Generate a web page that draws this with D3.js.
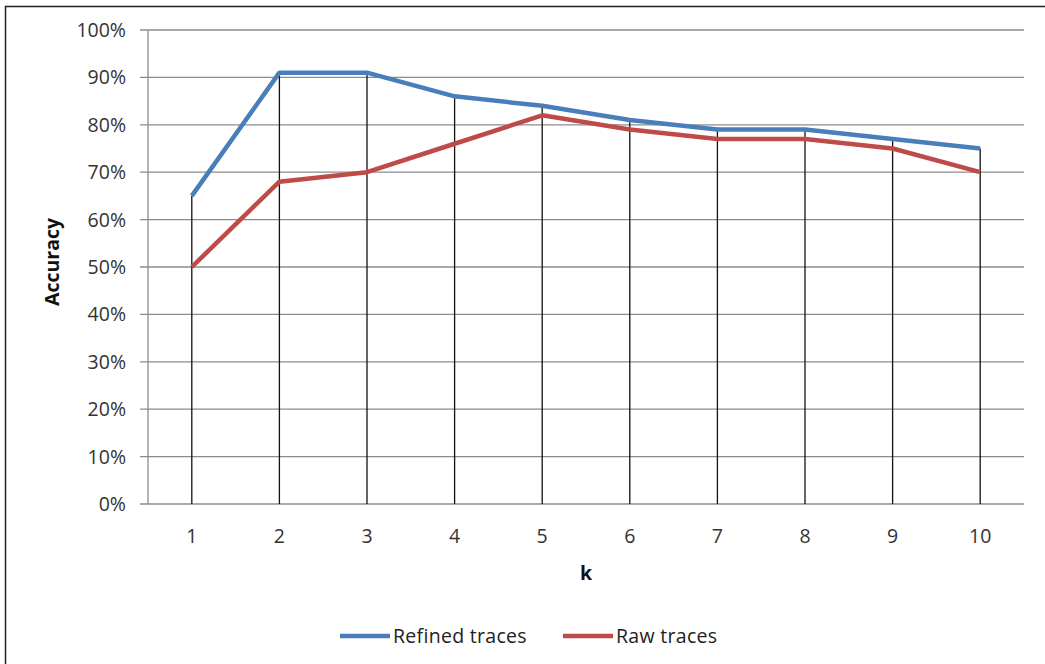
<!DOCTYPE html>
<html><head><meta charset="utf-8">
<script src="https://cdn.jsdelivr.net/npm/d3@7"></script>
<style>body{margin:0;background:#fff;} svg{display:block;font-family:"Open Sans",Lato,sans-serif;}</style>
</head><body>
<svg id="c" width="1045" height="664"></svg>
<script>
const categories = ["1","2","3","4","5","6","7","8","9","10"];
const refined = [65, 91, 91, 86, 84, 81, 79, 79, 77, 75];
const raw = [50, 68, 70, 76, 82, 79, 77, 77, 75, 70];
const yTicks = [0,10,20,30,40,50,60,70,80,90,100];
const seriesNames = ["Refined traces", "Raw traces"];
const colors = ["#4A7EBB", "#BE4B48"];

const svg = d3.select("#c");
svg.append("rect").attr("x",5.5).attr("y",6.5).attr("width",1045).attr("height",670)
  .attr("fill","none").attr("stroke","#222").attr("stroke-width",1.5);

const L=148, R=1024, T=30, B=504;
const x = d3.scaleBand().domain(categories).range([L,R]);
const y = d3.scaleLinear().domain([0,100]).range([B,T]);
const cx = d => x(d)+x.bandwidth()/2;

svg.append("g").selectAll("line").data(yTicks).join("line")
  .attr("x1",L-8).attr("x2",R).attr("y1",d=>y(d)).attr("y2",d=>y(d))
  .attr("stroke","#8c8c8c").attr("stroke-width",1.3);
svg.append("line").attr("x1",L).attr("x2",L).attr("y1",T).attr("y2",B)
  .attr("stroke","#8c8c8c").attr("stroke-width",1.3);
svg.append("g").selectAll("text").data(yTicks).join("text")
  .attr("x",126).attr("y",d=>y(d)).attr("dy","0.36em").attr("text-anchor","end")
  .attr("font-size",19.5).attr("fill","#333").text(d=>d+"%");
svg.append("g").selectAll("text").data(categories).join("text")
  .attr("x",d=>cx(d)).attr("y",543).attr("text-anchor","middle")
  .attr("font-size",19.5).attr("fill","#333").text(d=>d);

svg.append("g").selectAll("line").data(categories).join("line")
  .attr("x1",d=>cx(d)).attr("x2",d=>cx(d))
  .attr("y1",(d,i)=>y(Math.max(refined[i],raw[i]))).attr("y2",B)
  .attr("stroke","#111").attr("stroke-width",1.3);

const line = d3.line().x((d,i)=>cx(categories[i])).y(d=>y(d));
[refined, raw].forEach((s,k)=>{
  svg.append("path").datum(s).attr("d",line).attr("fill","none")
    .attr("stroke",colors[k]).attr("stroke-width",4.5).attr("stroke-linejoin","round");
});

svg.append("text").attr("transform","translate(59,262) rotate(-90)").attr("text-anchor","middle")
  .attr("font-size",19.5).attr("font-weight","bold").attr("fill","#111").text("Accuracy");
svg.append("text").attr("x",586).attr("y",580).attr("text-anchor","middle")
  .attr("font-size",19.5).attr("font-weight","bold").attr("fill","#111").text("k");

const legX = [340, 563];
seriesNames.forEach((n,k)=>{
  svg.append("line").attr("x1",legX[k]).attr("x2",legX[k]+50).attr("y1",636).attr("y2",636)
    .attr("stroke",colors[k]).attr("stroke-width",4.5);
  svg.append("text").attr("x",legX[k]+53).attr("y",636).attr("dy","0.36em")
    .attr("font-size",19.5).attr("letter-spacing",0.3).attr("fill","#222").text(n);
});
</script>
</body></html>
